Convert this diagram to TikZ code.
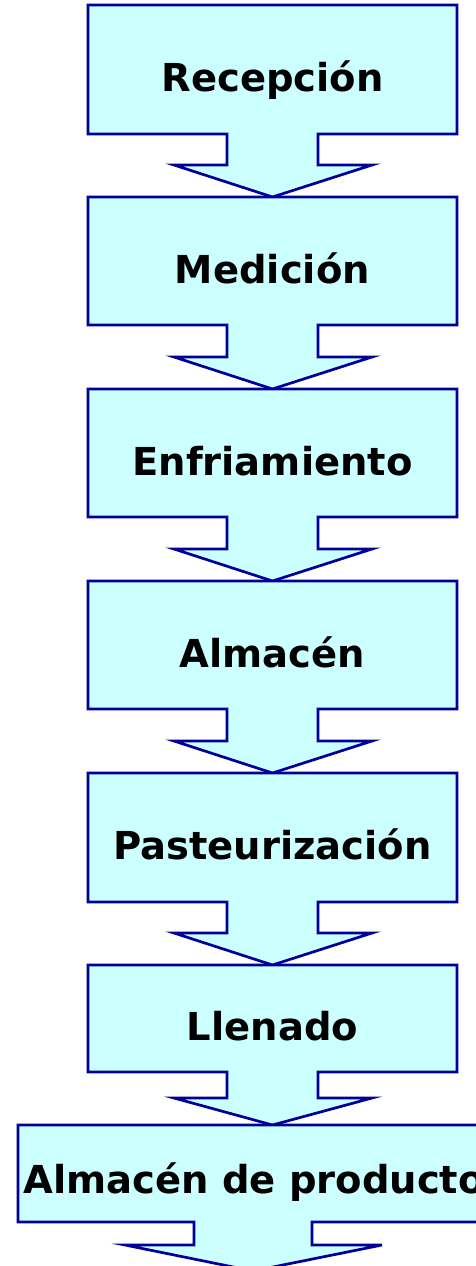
\documentclass[tikz,border=0pt]{standalone}
\usepackage{fontspec}
\setmainfont{DejaVu Sans}
\definecolor{boxfill}{HTML}{CCFFFF}
\definecolor{boxline}{HTML}{000099}
\tikzset{
  callbox/.style={fill=boxfill, draw=boxline, line width=2.7pt, line join=miter},
  label/.style={anchor=base, inner sep=0pt, font=\bfseries\fontsize{38.5}{46}\selectfont, text=black}
}
\begin{document}
\begin{tikzpicture}[x=1pt,y=-1pt]
\useasboundingbox (0,0) rectangle (476,1266);
\clip (0,0) rectangle (476,1266);
\fill[white] (0,0) rectangle (476,1266);
% box 1
\draw[callbox] (88,5) -- (457,5) -- (457,134) -- (318,134) -- (318,165) -- (372,165) -- (272.5,197) -- (174,165) -- (227,165) -- (227,134) -- (88,134) -- cycle;
\node[label] (recepcion) at (272.5,91) {Recepción};
% box 2
\draw[callbox] (88,197) -- (457,197) -- (457,325) -- (318,325) -- (318,357) -- (372,357) -- (272.5,389) -- (174,357) -- (227,357) -- (227,325) -- (88,325) -- cycle;
\node[label] (medicion) at (272.5,283) {Medición};
% box 3
\draw[callbox] (88,389) -- (457,389) -- (457,517) -- (318,517) -- (318,549) -- (372,549) -- (272.5,581) -- (174,549) -- (227,549) -- (227,517) -- (88,517) -- cycle;
\node[label] (enfriamiento) at (272.5,475) {Enfriamiento};
% box 4
\draw[callbox] (88,581) -- (457,581) -- (457,709) -- (318,709) -- (318,741) -- (372,741) -- (272.5,773) -- (174,741) -- (227,741) -- (227,709) -- (88,709) -- cycle;
\node[label] (almacen) at (272.5,667) {Almacén};
% box 5
\draw[callbox] (88,773) -- (457,773) -- (457,902) -- (318,902) -- (318,933) -- (372,933) -- (272.5,965) -- (174,933) -- (227,933) -- (227,902) -- (88,902) -- cycle;
\node[label] (pasteurizacion) at (272.5,859) {Pasteurización};
% box 6
\draw[callbox] (88,965) -- (457,965) -- (457,1072) -- (318,1072) -- (318,1098) -- (372,1098) -- (272.5,1125) -- (174,1098) -- (227,1098) -- (227,1072) -- (88,1072) -- cycle;
\node[label] (llenado) at (272.5,1040) {Llenado};
% box 7
\draw[callbox] (18,1125) -- (488,1125) -- (488,1222) -- (312,1222) -- (312,1245) -- (382,1245) -- (253,1271) -- (125,1245) -- (194,1245) -- (194,1222) -- (18,1222) -- cycle;
\node[label] (producto) at (254,1193) {Almacén de producto};
\end{tikzpicture}
\end{document}
